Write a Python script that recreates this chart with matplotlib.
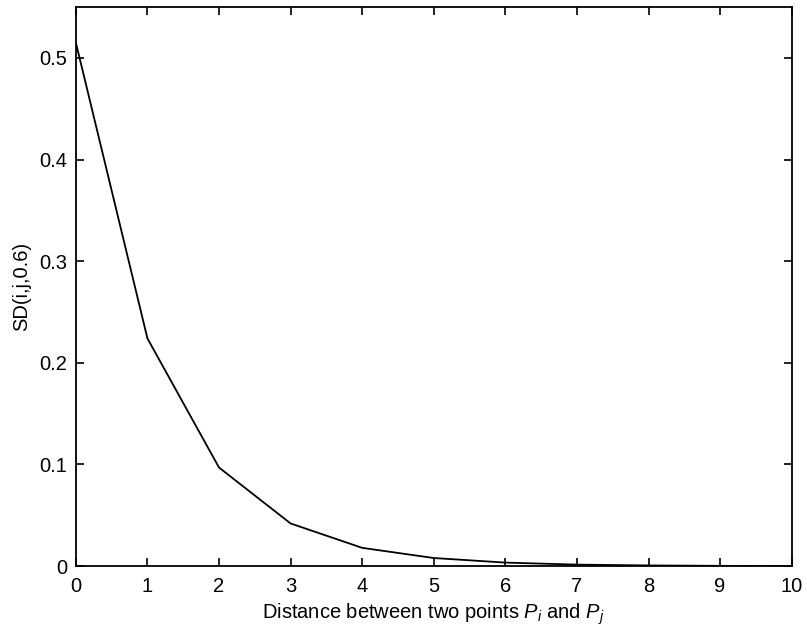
import matplotlib
matplotlib.use('Agg')
import matplotlib.pyplot as plt

# distance between points and the SD(i,j,0.6) value
distance = [0, 1, 2, 3, 4, 5, 6, 7, 8, 9, 10]
sd_values = [0.515, 0.224, 0.097, 0.042, 0.018, 0.008, 0.0035, 0.0015, 0.0007, 0.0003, 0.0001]

x_ticks = [0, 1, 2, 3, 4, 5, 6, 7, 8, 9, 10]
y_ticks = [0, 0.1, 0.2, 0.3, 0.4, 0.5]
y_tick_labels = ['0', '0.1', '0.2', '0.3', '0.4', '0.5']

plt.rcParams['font.family'] = ['Liberation Sans', 'DejaVu Sans']
plt.rcParams['mathtext.fontset'] = 'custom'
plt.rcParams['mathtext.rm'] = 'Liberation Sans'
plt.rcParams['mathtext.it'] = 'Liberation Sans:italic'

fig = plt.figure(figsize=(8.07, 6.39), dpi=100)
ax = fig.add_axes([0.094, 0.114, 0.887, 0.875])

ax.plot(distance, sd_values, color='black', linewidth=1.3)

ax.set_xlim(0, 10)
ax.set_ylim(0, 0.55)
ax.set_xticks(x_ticks)
ax.set_yticks(y_ticks)
ax.set_yticklabels(y_tick_labels)

ax.tick_params(direction='in', top=True, right=True, length=6, width=1.2,
               labelsize=14.5)
ax.tick_params(axis='x', pad=8)
ax.tick_params(axis='y', pad=6)
for spine in ax.spines.values():
    spine.set_linewidth(1.3)

ax.set_xlabel(r'Distance between two points $P_i$ and $P_j$', fontsize=14.5, labelpad=4)
ax.set_ylabel('SD(i,j,0.6)', fontsize=14.5, labelpad=6)

plt.savefig('out.png', dpi=100)
